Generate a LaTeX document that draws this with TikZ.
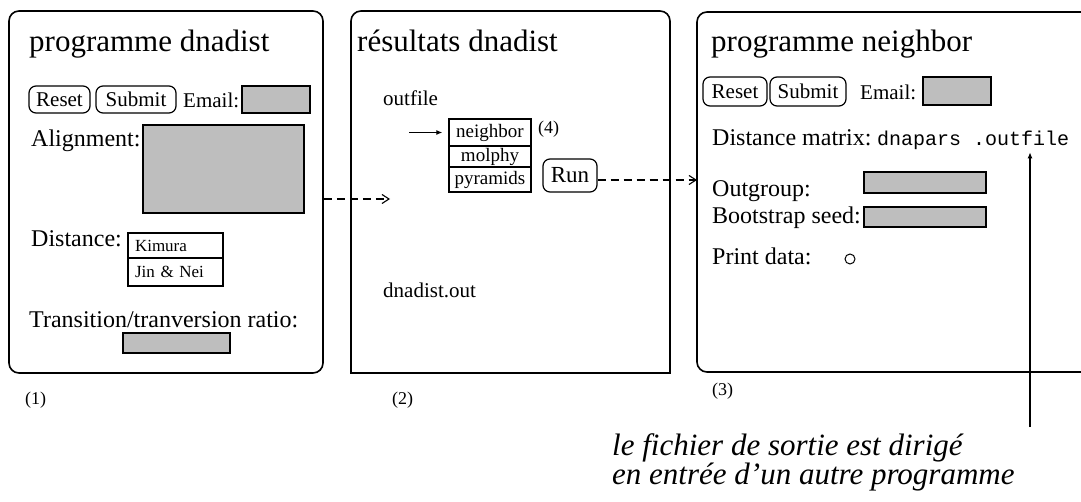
\documentclass[tikz,border=0pt]{standalone}
\usepackage{fontspec}
\setmainfont{Liberation Serif}
\setmonofont{Liberation Mono}
\usetikzlibrary{arrows.meta}
\newcommand\myfs[1]{\fontsize{#1}{#1}\selectfont}
\definecolor{fieldgray}{RGB}{190,190,190}
\tikzset{
  frame/.style={line width=1.6pt, rounded corners=10pt},
  btn/.style={draw, line width=1.2pt, rounded corners=7pt, inner sep=0pt, font=\myfs{21}},
  field/.style={draw, fill=fieldgray, line width=1.4pt, inner sep=0pt},
  cell/.style={draw, line width=1.3pt, inner sep=0pt, font=\myfs{19}},
  lbl/.style={anchor=base west, inner sep=0pt, font=\myfs{24}},
  ttl/.style={anchor=base west, inner sep=0pt, font=\myfs{31}},
  small/.style={anchor=base west, inner sep=0pt, font=\myfs{18}},
  dasharrow/.style={line width=1.1pt, dash pattern=on 8pt off 5pt, -{Straight Barb[length=7pt,width=9pt]}},
  solidarrow/.style={line width=1.1pt, -{Latex[length=6pt,width=5pt]}},
}
\begin{document}
\begin{tikzpicture}[x=1pt,y=-1pt]
\useasboundingbox (0,0) rectangle (1081,502);

% ---------- box 1 ----------
\node[draw, frame, minimum width=314pt, minimum height=362pt, inner sep=0pt] (box1) at (166,192) {};
\node[ttl] (t1) at (29,52) {programme dnadist};
\node[btn, minimum width=61pt, minimum height=27pt] (reset1) at (59.5,99.5) {Reset};
\node[btn, minimum width=80pt, minimum height=27pt] (submit1) at (136,99.5) {Submit};
\node[lbl, font=\myfs{21}] (email1) at (183,108) {Email:};
\node[field, minimum width=68pt, minimum height=27pt] (emailf1) at (276,99.5) {};
\node[lbl] (align1) at (31,147) {Alignment:};
\node[field, minimum width=161pt, minimum height=88pt] (alignf1) at (223.5,169) {};
\node[lbl] (dist1) at (31,247) {Distance:};
\node[cell, minimum width=95pt, minimum height=25pt, text width=81pt, inner xsep=7pt, align=left, font=\myfs{17}] (kimura) at (175.5,245.5) {Kimura};
\node[cell, minimum width=95pt, minimum height=28pt, text width=81pt, inner xsep=7pt, align=left, font=\myfs{17}] (jinnei) at (175.5,272) {Jin \& Nei};
\node[lbl] (trans1) at (29,327) {Transition/tranversion ratio:};
\node[field, minimum width=107pt, minimum height=20pt] (transf1) at (176.5,343) {};
\node[small] (n1) at (25,404) {(1)};

% ---------- box 2 ----------
\draw[frame] (351,373) [sharp corners] -- (351,200) [rounded corners=10pt] -- (351,11) -- (670,11) -- (670,200) [sharp corners] -- (670,373) -- cycle;
\node[ttl] (t2) at (357,52) {résultats dnadist};
\node[lbl, font=\myfs{21}] (outfile) at (383,106) {outfile};
\node[cell, minimum width=82pt, minimum height=27pt] (neighbor) at (490,132.5) {neighbor};
\node[cell, minimum width=82pt, minimum height=21pt] (molphy) at (490,156.5) {molphy};
\node[cell, minimum width=82pt, minimum height=25pt] (pyramids) at (490,179.5) {pyramids};
\node[small] (n4) at (538,134) {(4)};
\node[btn, minimum width=54pt, minimum height=33pt, font=\myfs{23}] (run) at (570,175.5) {Run};
\node[lbl, font=\myfs{21}] (dnaout) at (383,298) {dnadist.out};
\node[small] (n2) at (392,404) {(2)};
\coordinate (nstart) at (409,132.5);
\draw[solidarrow, shorten >=6pt] (nstart) -- (neighbor.west);

% ---------- box 3 ----------
\draw[frame] (1081,12) -- (697,12) -- (697,372) -- (1081,372);
\node[ttl] (t3) at (711,52) {programme neighbor};
\node[btn, minimum width=64pt, minimum height=29pt] (reset3) at (735,91.5) {Reset};
\node[btn, minimum width=76pt, minimum height=29pt] (submit3) at (808,91.5) {Submit};
\node[lbl, font=\myfs{21}] (email3) at (860,100) {Email:};
\node[field, minimum width=68pt, minimum height=28pt] (emailf3) at (957,91) {};
\node[lbl] (distm) at (712,146) {Distance matrix:};
\node[anchor=base west, inner sep=2pt, font=\ttfamily\myfs{20}] (mono) at (875,146) {dnapars .outfile};
\node[lbl] (outg) at (712,197) {Outgroup:};
\node[field, minimum width=122pt, minimum height=21pt] (outgf) at (925,182.5) {};
\node[lbl] (boot) at (712,224) {Bootstrap seed:};
\node[field, minimum width=122pt, minimum height=20pt] (bootf) at (925,217) {};
\node[lbl] (printd) at (712,265) {Print data:};
\node[draw, circle, line width=1pt, minimum size=10pt, inner sep=0pt] (radio) at (850,259) {};
\node[small] (n3) at (712,395) {(3)};

% ---------- connectors ----------
\coordinate (a1end) at (390,199);
\draw[dasharrow] (a1end -| box1.east) -- (a1end);
\coordinate (b3w) at (697,180);
\draw[dasharrow] (run.east |- b3w) -- (b3w);
\coordinate (vstart) at (1030,427);
\draw[solidarrow] (vstart) -- (vstart |- mono.south);

% ---------- caption ----------
\node[anchor=base west, inner sep=0pt, font=\itshape\myfs{31}] (cap1) at (612,455) {le fichier de sortie est dirigé};
\node[anchor=base west, inner sep=0pt, font=\itshape\myfs{31}] (cap2) at (612,484) {en entrée d'un autre programme};
\end{tikzpicture}
\end{document}
